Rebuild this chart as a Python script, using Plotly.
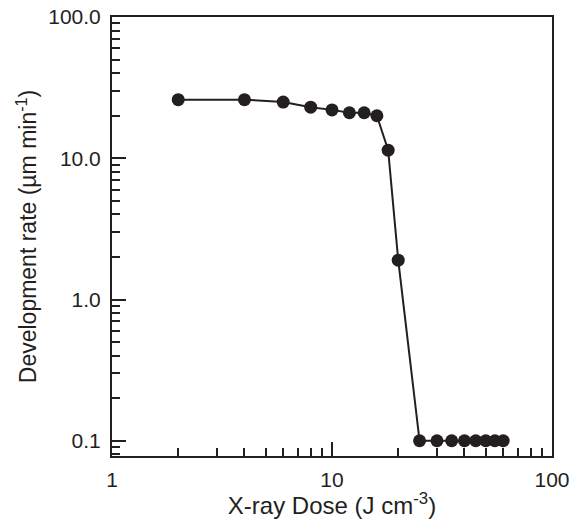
import plotly.graph_objects as go
import numpy as np

dose = [2, 4, 6, 8, 10, 12, 14, 16, 18, 20, 25, 30, 35, 40, 45, 50, 55, 60]
rate = [26, 26, 25, 23, 22, 21, 21, 20, 11.4, 1.9, 0.1, 0.1, 0.1, 0.1, 0.1, 0.1, 0.1, 0.1]

x_ticks = [1, 10, 100]
x_ticktext = ["1", "10", "100"]
y_ticks = [0.1, 1, 10, 100]
y_ticktext = ["0.1", "1.0", "10.0", "100.0"]

x_minor = [m * d for d in [1, 10] for m in range(2, 10)]
y_minor = [m * d for d in [0.01, 0.1, 1, 10] for m in range(2, 10)]

ink = "#231f20"
font = "Liberation Sans, Arial, sans-serif"

fig = go.Figure()
fig.add_trace(go.Scatter(
    x=dose, y=rate, mode="lines+markers",
    line=dict(color=ink, width=2),
    marker=dict(color=ink, size=13),
    showlegend=False,
))

fig.update_layout(
    width=581, height=519,
    margin=dict(l=112, r=29, t=17, b=63, autoexpand=False),
    plot_bgcolor="white", paper_bgcolor="white",
    font=dict(family=font, size=21, color=ink),
)
fig.update_xaxes(
    type="log", range=[0, 2],
    tickmode="array", tickvals=x_ticks, ticktext=x_ticktext,
    ticks="inside", ticklen=14, tickwidth=2, tickcolor=ink,
    minor=dict(tickmode="array", tickvals=x_minor, ticks="inside", ticklen=8, tickwidth=2, tickcolor=ink, showgrid=False),
    showline=True, linecolor=ink, linewidth=2, mirror=True,
    showgrid=False, zeroline=False,
    title=dict(text="X-ray Dose (J cm<sup>-3</sup>)", font=dict(size=24, family=font, color=ink), standoff=0),
    tickfont=dict(size=21, family=font, color=ink),
    ticklabelstandoff=4, ticklabeloverflow="allow",
    automargin=False,
)
fig.update_yaxes(
    type="log", range=[np.log10(0.078), 2],
    tickmode="array", tickvals=y_ticks, ticktext=y_ticktext,
    ticks="inside", ticklen=14, tickwidth=2, tickcolor=ink,
    minor=dict(tickmode="array", tickvals=y_minor, ticks="inside", ticklen=8, tickwidth=2, tickcolor=ink, showgrid=False),
    showline=True, linecolor=ink, linewidth=2, mirror=True,
    showgrid=False, zeroline=False,
    title=dict(text="Development rate (µm min<sup>-1</sup>)", font=dict(size=23, family=font, color=ink), standoff=5),
    tickfont=dict(size=21, family=font, color=ink),
    ticklabelstandoff=5, ticklabeloverflow="allow",
    automargin=False,
)

fig.write_html(
    "out.html",
    config={"displayModeBar": False},
    post_script="document.body.style.margin='0';document.body.style.overflow='hidden';",
)
